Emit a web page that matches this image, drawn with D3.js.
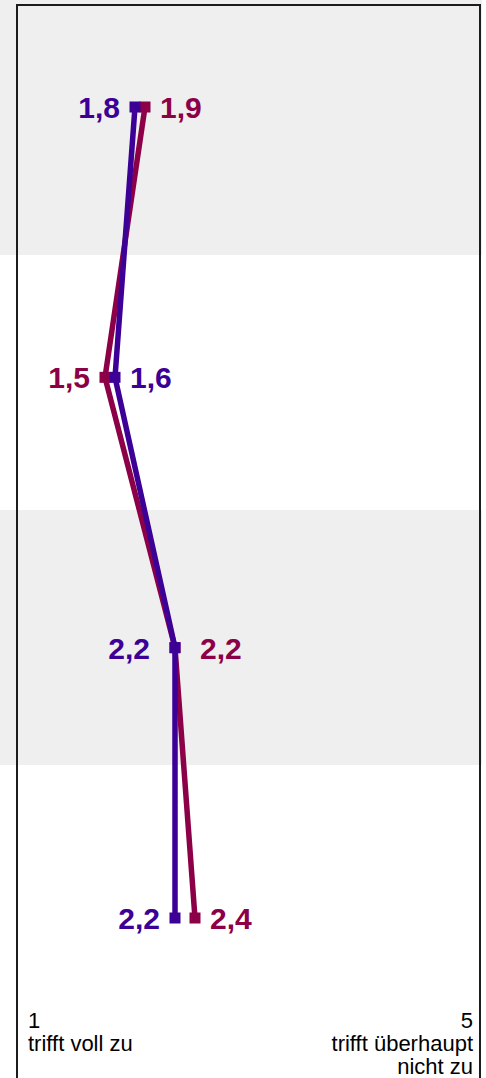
<!DOCTYPE html>
<html>
<head>
<meta charset="utf-8">
<script src="https://cdn.jsdelivr.net/npm/d3@7/dist/d3.min.js"></script>
<style>
  html, body { margin: 0; padding: 0; background: #ffffff; }
  svg { display: block; }
</style>
</head>
<body>
<div id="chart"></div>
<script>
// Four survey items, rated on a 1 (trifft voll zu) to 5 (trifft überhaupt nicht zu) scale
const items = ["Aussage 1", "Aussage 2", "Aussage 3", "Aussage 4"];
const seriesA = [1.8, 1.6, 2.2, 2.2];   // violet line
const seriesB = [1.9, 1.5, 2.2, 2.4];   // crimson line
const scaleMin = 1;
const scaleMax = 5;
const minLabel = ["1", "trifft voll zu"];
const maxLabel = ["5", "trifft überhaupt", "nicht zu"];

const W = 486, H = 1078;
const colorA = "#3c0097";
const colorB = "#8c0047";
const bandFill = "#efefef";

const svg = d3.select("#chart").append("svg")
  .attr("width", W).attr("height", H);

const x = d3.scaleLinear().domain([scaleMin, scaleMax]).range([55, 455]);
const yBand = d3.scaleBand().domain(items).range([0, 1020]);
const yPt = d3.scalePoint().domain(items).range([107, 918]);

// alternating background bands
svg.append("g").selectAll("rect")
  .data(items.filter((d, i) => i % 2 === 0))
  .join("rect")
  .attr("x", 0)
  .attr("width", 482)
  .attr("y", d => yBand(d))
  .attr("height", yBand.bandwidth())
  .attr("fill", bandFill);

// frame
svg.append("rect")
  .attr("x", 17).attr("y", 5)
  .attr("width", 463).attr("height", H + 20)
  .attr("fill", "none")
  .attr("stroke", "#1c1c1c")
  .attr("stroke-width", 2);

const series = [
  { values: seriesB, color: colorB },
  { values: seriesA, color: colorA }
];

const line = d3.line()
  .x(d => x(d.v))
  .y(d => yPt(d.item));

const sq = 11;
series.forEach(s => {
  const pts = items.map((item, i) => ({ item, v: s.values[i] }));
  svg.append("path")
    .datum(pts)
    .attr("d", line)
    .attr("fill", "none")
    .attr("stroke", s.color)
    .attr("stroke-width", 5.5)
    .attr("stroke-linejoin", "miter");
  svg.append("g").selectAll("rect")
    .data(pts)
    .join("rect")
    .attr("x", d => x(d.v) - sq / 2)
    .attr("y", d => yPt(d.item) - sq / 2)
    .attr("width", sq)
    .attr("height", sq)
    .attr("fill", s.color);
});

// value labels: the smaller value is labelled to the left, the larger to the right
const fmt = v => v.toFixed(1).replace(".", ",");
const labelG = svg.append("g")
  .attr("font-family", "Arial, 'Liberation Sans', sans-serif")
  .attr("font-weight", "bold")
  .attr("font-size", 30);

items.forEach((item, i) => {
  const a = seriesA[i], b = seriesB[i];
  const same = a === b;
  const gap = same ? 25 : 15;
  const aLeft = a <= b;
  const entries = [
    { v: a, color: colorA, left: aLeft },
    { v: b, color: colorB, left: !aLeft }
  ];
  entries.forEach(e => {
    labelG.append("text")
      .attr("x", e.left ? x(e.v) - gap : x(e.v) + gap)
      .attr("y", yPt(item))
      .attr("dy", "0.37em")
      .attr("text-anchor", e.left ? "end" : "start")
      .attr("fill", e.color)
      .text(fmt(e.v));
  });
});

// scale end descriptions
const endG = svg.append("g")
  .attr("font-family", "Arial, 'Liberation Sans', sans-serif")
  .attr("font-size", 22)
  .attr("fill", "#000");

function endLabel(lines, xPos, anchor) {
  const t = endG.append("text")
    .attr("x", xPos)
    .attr("y", 1028)
    .attr("text-anchor", anchor);
  lines.forEach((l, i) => {
    t.append("tspan")
      .attr("x", xPos)
      .attr("dy", i === 0 ? 0 : 23)
      .text(l);
  });
}
endLabel(minLabel, 28, "start");
endLabel(maxLabel, 473, "end");
</script>
</body>
</html>
